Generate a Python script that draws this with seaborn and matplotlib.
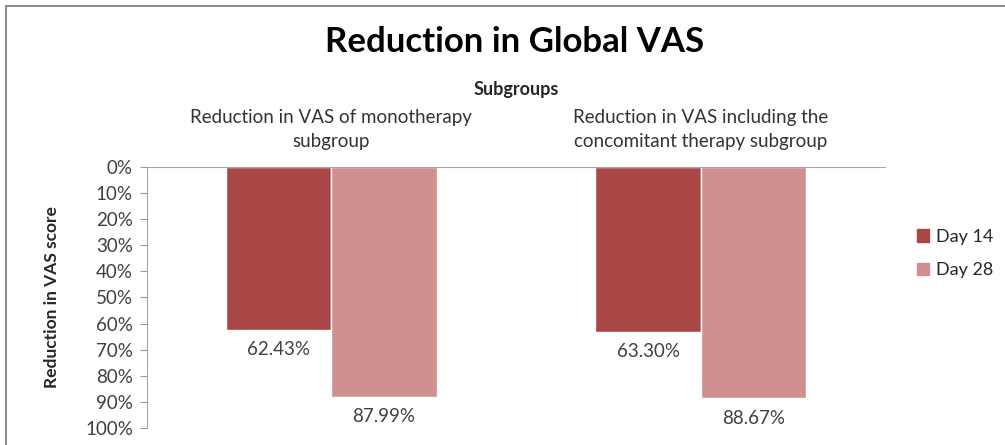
import matplotlib
matplotlib.use("Agg")
import matplotlib.pyplot as plt
import matplotlib.patches as mpatches
import pandas as pd
import seaborn as sns
from matplotlib.ticker import PercentFormatter

subgroups = ["Reduction in VAS of monotherapy\nsubgroup",
             "Reduction in VAS including the\nconcomitant therapy subgroup"]
day14 = [0.6243, 0.6330]
day28 = [0.8799, 0.8867]
series = ["Day 14", "Day 28"]
colors = ["#A84745", "#D19090"]

df = pd.DataFrame({
    "subgroup": subgroups * 2,
    "reduction": day14 + day28,
    "day": [series[0]] * 2 + [series[1]] * 2,
})

sns.set_style("white")
plt.rcParams['font.family'] = ['Lato', 'DejaVu Sans']

fig = plt.figure(figsize=(10.05, 4.45), dpi=100)
# outer chart border
fig.patches.append(mpatches.Rectangle((0.006, -0.05), 1.2, 1.037, transform=fig.transFigure,
                                      fill=False, edgecolor="#8c8c8c", linewidth=1.5))
ax = fig.add_axes([0.146, 0.038, 0.735, 0.587])

sns.barplot(data=df, x="subgroup", y="reduction", hue="day", palette=colors,
            width=0.57, gap=0, saturation=1, ax=ax, legend=False)

ax.set_ylim(1.0, 0)
ax.set_yticks([i / 10 for i in range(11)])
ax.yaxis.set_major_formatter(PercentFormatter(1.0, decimals=0))
ax.tick_params(axis="y", left=True, length=5, color="#999999", labelsize=13.5,
               labelcolor="#404040", pad=5)
ax.xaxis.tick_top()
ax.xaxis.set_label_position("top")
ax.tick_params(axis="x", top=False, bottom=False, labelsize=13.5, labelcolor="#333333", pad=9)
plt.setp(ax.get_xticklabels(), linespacing=1.45)
ax.set_xlabel("Subgroups", fontsize=13, fontweight="bold", labelpad=10)
ax.set_ylabel("Reduction in VAS score", fontsize=12.5, fontweight="bold", labelpad=18)

for side in ["bottom", "right"]:
    ax.spines[side].set_visible(False)
for side in ["left", "top"]:
    ax.spines[side].set_color("#a6a6a6")

for cont in ax.containers:
    labels = ["%.2f%%" % (b.get_height() * 100) for b in cont]
    ax.bar_label(cont, labels=labels, padding=8, fontsize=13.5, color="#404040")

fig.text(0.512, 0.905, "Reduction in Global VAS", ha="center", va="center",
         fontsize=25, fontweight="bold", color="black")

handles = [mpatches.Patch(color=c, label=s) for c, s in zip(colors, series)]
fig.legend(handles=handles, loc="center left", bbox_to_anchor=(0.912, 0.43),
           frameon=False, fontsize=13, handlelength=0.7, handleheight=0.7,
           handletextpad=0.4, labelspacing=0.95, borderaxespad=0, borderpad=0)

fig.savefig("out.png", dpi=100)
